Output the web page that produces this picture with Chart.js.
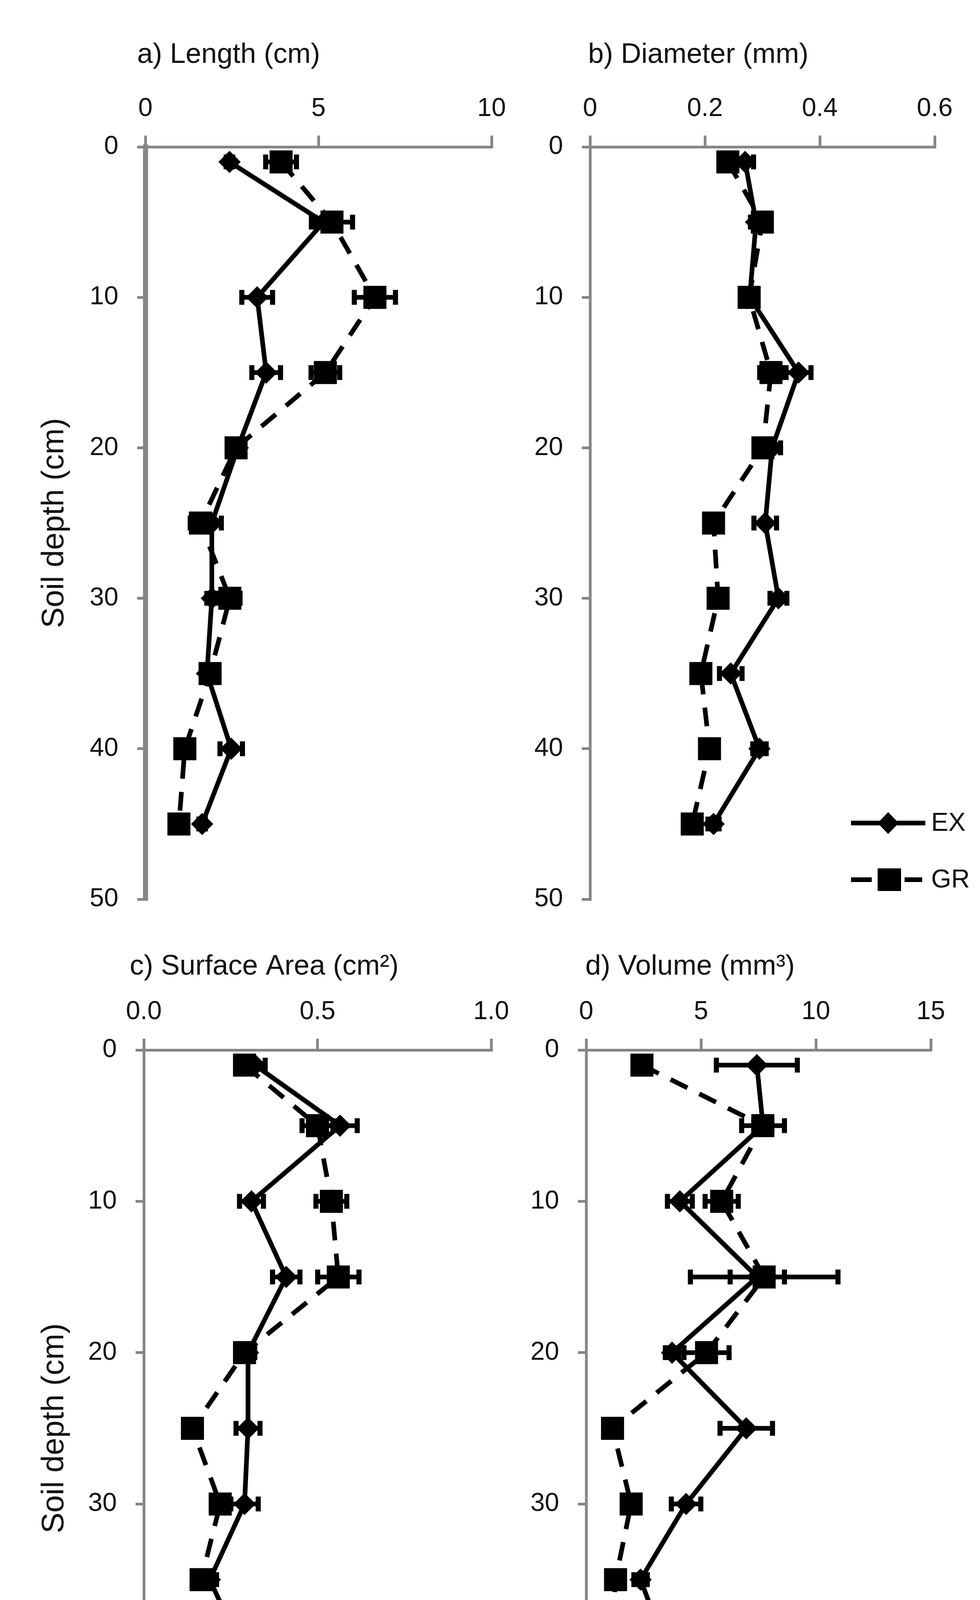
<!DOCTYPE html>
<html>
<head>
<meta charset="utf-8">
<script src="https://cdn.jsdelivr.net/npm/chart.js@4.4.0/dist/chart.umd.min.js"></script>
<style>
  body { margin: 0; background: #fff; width: 2508px; height: 4710px; position: relative; overflow: hidden; }
  canvas { position: absolute; }
</style>
</head>
<body>
<canvas id="cA" width="1300" height="2355" style="left:0px;top:0px"></canvas>
<canvas id="cB" width="1208" height="2355" style="left:1300px;top:0px"></canvas>
<canvas id="cC" width="1300" height="2355" style="left:0px;top:2355px"></canvas>
<canvas id="cD" width="1208" height="2355" style="left:1300px;top:2355px"></canvas>
<script>
// soil depth of each sample (cm)
const depth = [1, 5, 10, 15, 20, 25, 30, 35, 40, 45];
const depthTicks = [0, 10, 20, 30, 40, 50];
const seriesNames = ["EX", "GR"];

// a) length (cm)
const lengthEX = [2.43, 5.15, 3.23, 3.49, 2.67, 1.92, 1.92, 1.78, 2.48, 1.64];
const lengthGR = [3.92, 5.39, 6.63, 5.2, 2.62, 1.59, 2.44, 1.87, 1.14, 0.97];
const lengthErrEX = [0.1, 0.25, 0.45, 0.42, 0.15, 0.28, 0.15, 0.15, 0.33, 0.1];
const lengthErrGR = [0.45, 0.6, 0.6, 0.42, 0.2, 0.3, 0.3, 0.2, 0.2, 0.1];
const lengthTicks = [0, 5, 10];
const lengthTickLabels = ["0", "5", "10"];

// b) diameter (mm)
const diamEX = [0.27, 0.289, 0.278, 0.363, 0.317, 0.305, 0.328, 0.245, 0.295, 0.215];
const diamGR = [0.24, 0.3, 0.277, 0.315, 0.301, 0.215, 0.223, 0.193, 0.208, 0.178];
const diamErrEX = [0.015, 0.01, 0.012, 0.022, 0.015, 0.02, 0.015, 0.02, 0.012, 0.01];
const diamErrGR = [0.015, 0.012, 0.015, 0.02, 0.015, 0.01, 0.01, 0.015, 0.01, 0.01];
const diamTicks = [0, 0.2, 0.4, 0.6];
const diamTickLabels = ["0", "0.2", "0.4", "0.6"];

// c) surface area (cm2)
const areaEX = [0.32, 0.565, 0.31, 0.41, 0.3, 0.3, 0.29, 0.19, 0.29, 0.16];
const areaGR = [0.29, 0.5, 0.54, 0.56, 0.29, 0.14, 0.22, 0.165, 0.12, 0.09];
const areaErrEX = [0.03, 0.05, 0.035, 0.04, 0.02, 0.035, 0.04, 0.02, 0.04, 0.01];
const areaErrGR = [0.02, 0.045, 0.045, 0.06, 0.02, 0.02, 0.02, 0.02, 0.01, 0.01];
const areaTicks = [0, 0.5, 1];
const areaTickLabels = ["0.0", "0.5", "1.0"];

// d) volume (mm3)
const volEX = [7.43, 7.7, 4.08, 7.45, 3.74, 6.97, 4.35, 2.37, 3.6, 1.7];
const volGR = [2.43, 7.69, 5.9, 7.75, 5.24, 1.15, 1.96, 1.28, 1.04, 0.7];
const volErrEX = [1.77, 0.94, 0.55, 1.19, 0.3, 1.15, 0.65, 0.3, 0.6, 0.2];
const volErrGR = [0.3, 0.4, 0.73, 3.22, 0.99, 0.3, 0.3, 0.3, 0.3, 0.2];
const volTicks = [0, 5, 10, 15];
const volTickLabels = ["0", "5", "10", "15"];

const FONT = "'Liberation Sans', Arial, sans-serif";
const TEXT = "#111";
const AXIS = "#868686";

// horizontal error bars, drawn through the chart scales
const errorBars = {
  id: "errorBars",
  beforeDatasetsDraw(chart) {
    const ctx = chart.ctx;
    const xs = chart.scales.x;
    const ys = chart.scales.y;
    ctx.save();
    ctx.fillStyle = "#000";
    chart.data.datasets.forEach((ds) => {
      ds.err.forEach((e, i) => {
        const p = ds.data[i];
        const py = ys.getPixelForValue(p.y);
        const x1 = xs.getPixelForValue(p.x - e);
        const x2 = xs.getPixelForValue(p.x + e);
        ctx.fillRect(x1, py - 6, x2 - x1, 12);
        ctx.fillRect(x1 - 6, py - 19, 13, 38);
        ctx.fillRect(x2 - 7, py - 19, 13, 38);
      });
    });
    ctx.restore();
  },
};

// panel heading, set a little left of the plot like the reference
const panelTitle = {
  id: "panelTitle",
  afterDraw(chart, args, opts) {
    const ctx = chart.ctx;
    ctx.save();
    ctx.font = "72px " + FONT;
    ctx.fillStyle = TEXT;
    ctx.textAlign = "left";
    ctx.textBaseline = "middle";
    ctx.fillText(opts.text, opts.x, opts.y);
    ctx.restore();
  },
};

// legend with line samples, only on panel b
const lineLegend = {
  id: "lineLegend",
  afterDraw(chart, args, opts) {
    if (!opts.show) return;
    const ctx = chart.ctx;
    ctx.save();
    ctx.strokeStyle = "#000";
    ctx.fillStyle = "#000";
    ctx.lineWidth = 12;
    // EX
    ctx.beginPath();
    ctx.moveTo(878, 2107);
    ctx.lineTo(1068, 2107);
    ctx.stroke();
    ctx.beginPath();
    ctx.moveTo(973, 2107 - 28);
    ctx.lineTo(973 + 27, 2107);
    ctx.lineTo(973, 2107 + 28);
    ctx.lineTo(973 - 27, 2107);
    ctx.closePath();
    ctx.fill();
    // GR
    ctx.fillRect(878, 2252 - 6, 53, 12);
    ctx.fillRect(946, 2252 - 29, 60, 58);
    ctx.fillRect(1015, 2252 - 6, 45, 12);
    ctx.font = "66px " + FONT;
    ctx.fillStyle = TEXT;
    ctx.textBaseline = "middle";
    ctx.textAlign = "left";
    ctx.fillText(seriesNames[0], 1083, 2109);
    ctx.fillText(seriesNames[1], 1083, 2254);
    ctx.restore();
  },
};

// fixed scale box sizes so the plot area lands where the reference has it
function fixBox(s, size) {
  if (s.isHorizontal()) s.height = size;
  else s.width = size;
  s.paddingLeft = 0;
  s.paddingRight = 0;
  s.paddingTop = 0;
  s.paddingBottom = 0;
}

function makePanel(id, p) {
  const ctx = document.getElementById(id);
  const canvasW = ctx.width;
  const canvasH = ctx.height;
  const pts = (vals) => vals.map((v, i) => ({ x: v, y: depth[i] }));
  return new Chart(ctx, {
    type: "scatter",
    data: {
      datasets: [
        {
          label: seriesNames[1],
          data: pts(p.gr),
          err: p.errGR,
          showLine: true,
          borderColor: "#000",
          backgroundColor: "#000",
          borderWidth: 12,
          borderDash: [48, 34],
          pointStyle: "rect",
          pointRadius: 41,
          pointBorderWidth: 1,
          tension: 0,
        },
        {
          label: seriesNames[0],
          data: pts(p.ex),
          err: p.errEX,
          showLine: true,
          borderColor: "#000",
          backgroundColor: "#000",
          borderWidth: 12,
          pointStyle: "rectRot",
          pointRadius: 28,
          pointBorderWidth: 1,
          tension: 0,
        },
      ],
    },
    options: {
      responsive: false,
      animation: false,
      devicePixelRatio: 1,
      clip: false,
      layout: {
        padding: { left: 0, top: 0, right: canvasW - p.right, bottom: canvasH - p.bottom },
      },
      plugins: {
        legend: { display: false },
        tooltip: { enabled: false },
        lineLegend: { show: p.legend },
        panelTitle: { text: p.title, x: p.titleX, y: p.titleY },
      },
      scales: {
        x: {
          type: "linear",
          position: "top",
          min: p.ticks[0],
          max: p.ticks[p.ticks.length - 1],
          afterBuildTicks: (s) => { s.ticks = p.ticks.map((v) => ({ value: v })); },
          afterFit: (s) => fixBox(s, p.top),
          ticks: {
            callback: (v, i) => p.tickLabels[i],
            font: { family: FONT, size: 66 },
            color: TEXT,
            padding: 29,
            maxRotation: 0,
          },
          grid: { drawOnChartArea: false, color: AXIS, lineWidth: 7, tickLength: 29, tickWidth: 7 },
          border: { color: AXIS, width: 7 },
        },
        y: {
          type: "linear",
          position: "left",
          reverse: true,
          min: 0,
          max: 50,
          afterBuildTicks: (s) => { s.ticks = depthTicks.map((v) => ({ value: v })); },
          afterFit: (s) => fixBox(s, p.left),
          ticks: {
            font: { family: FONT, size: 66 },
            color: TEXT,
            padding: 48,
          },
          grid: { drawOnChartArea: false, color: AXIS, lineWidth: 7, tickLength: 21, tickWidth: 7 },
          border: { color: AXIS, width: p.yBorder },
          title: {
            display: p.yTitle !== "",
            text: p.yTitle,
            font: { family: FONT, size: 80 },
            color: TEXT,
            padding: { top: 92, bottom: 0 },
          },
        },
      },
    },
    plugins: [errorBars, panelTitle, lineLegend],
  });
}

makePanel("cA", {
  ex: lengthEX, gr: lengthGR, errEX: lengthErrEX, errGR: lengthErrGR,
  ticks: lengthTicks, tickLabels: lengthTickLabels,
  title: "a) Length (cm)", titleX: 351, titleY: 141, yTitle: "Soil depth (cm)",
  left: 372, top: 376, right: 1261, bottom: 2302, yBorder: 13, legend: false,
});
makePanel("cB", {
  ex: diamEX, gr: diamGR, errEX: diamErrEX, errGR: diamErrGR,
  ticks: diamTicks, tickLabels: diamTickLabels,
  title: "b) Diameter (mm)", titleX: 205, titleY: 141, yTitle: "",
  left: 210, top: 376, right: 1092, bottom: 2302, yBorder: 7, legend: true,
});
makePanel("cC", {
  ex: areaEX, gr: areaGR, errEX: areaErrEX, errGR: areaErrGR,
  ticks: areaTicks, tickLabels: areaTickLabels,
  title: "c) Surface Area (cm\u00b2)", titleX: 332, titleY: 120, yTitle: "Soil depth (cm)",
  left: 368, top: 333, right: 1257, bottom: 2270, yBorder: 7, legend: false,
});
makePanel("cD", {
  ex: volEX, gr: volGR, errEX: volErrEX, errGR: volErrGR,
  ticks: volTicks, tickLabels: volTickLabels,
  title: "d) Volume (mm\u00b3)", titleX: 198, titleY: 120, yTitle: "",
  left: 200, top: 333, right: 1082, bottom: 2270, yBorder: 7, legend: false,
});
</script>
</body>
</html>
